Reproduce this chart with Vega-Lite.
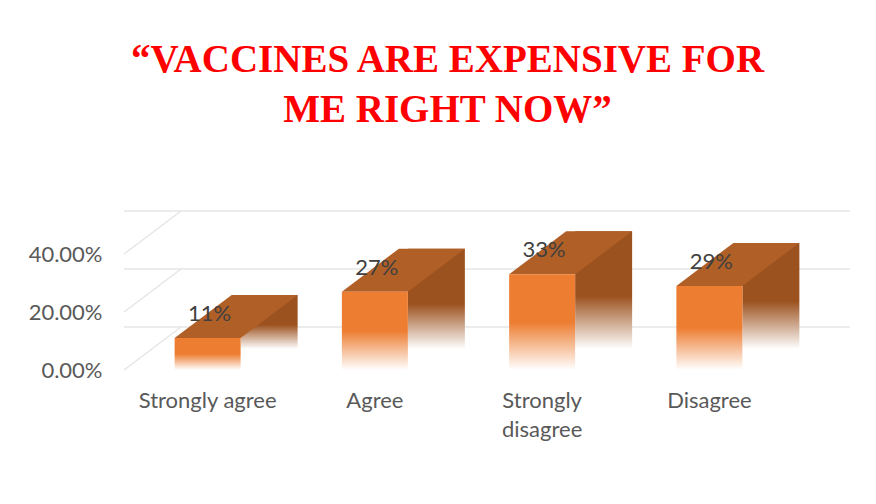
{
  "$schema": "https://vega.github.io/schema/vega-lite/v6.json",
  "width": 669,
  "height": 116,
  "autosize": {"type": "none"},
  "padding": {"left": 124, "top": 254, "right": 83, "bottom": 134},
  "background": "white",
  "config": {
    "view": {"stroke": null},
    "font": "Lato"
  },
  "title": {
    "text": ["“VACCINES ARE EXPENSIVE FOR", "ME RIGHT NOW”"],
    "font": "Liberation Serif",
    "fontWeight": "bold",
    "fontSize": 39,
    "color": "#FF0000",
    "lineHeight": 50,
    "anchor": "middle",
    "dx": -11,
    "offset": 80
  },
  "datasets": {
    "bars": [
      {"response": "Strongly agree", "share": 0.11, "label": "11%"},
      {"response": "Agree", "share": 0.27, "label": "27%"},
      {"response": "Strongly disagree", "share": 0.33, "label": "33%"},
      {"response": "Disagree", "share": 0.29, "label": "29%"}
    ],
    "grid": [{"t": 0}, {"t": 0.2}, {"t": 0.4}]
  },
  "layer": [
    {
      "data": {"name": "grid"},
      "mark": {"type": "rule", "color": "#e6e6e6", "strokeWidth": 1.5, "xOffset": 57, "yOffset": -43},
      "encoding": {
        "y": {
          "field": "t",
          "type": "quantitative",
          "scale": {"domain": [0, 0.4], "nice": false},
          "axis": {
            "title": null,
            "domain": false,
            "ticks": false,
            "grid": false,
            "values": [0, 0.2, 0.4],
            "format": ".2%",
            "labelFont": "Lato",
            "labelFontSize": 22,
            "labelColor": "#595959",
            "labelPadding": 22
          }
        }
      }
    },
    {
      "data": {"name": "grid"},
      "mark": {"type": "rule", "color": "#e6e6e6", "strokeWidth": 1.5, "y2Offset": -43},
      "encoding": {
        "x": {"value": 0},
        "x2": {"value": 57},
        "y": {"field": "t", "type": "quantitative"},
        "y2": {"field": "t"}
      }
    },
    {
      "data": {"name": "bars"},
      "layer": [
        {
          "mark": {
            "type": "bar",
            "width": 57,
            "xOffset": 61.5,
            "yOffset": -43,
            "y2Offset": -21,
            "fill": {
              "gradient": "linear", "x1": 0, "y1": 0, "x2": 0, "y2": 1,
              "stops": [
                {"offset": 0, "color": "#9c521f"},
                {"offset": 0.55, "color": "#9c521f"},
                {"offset": 1, "color": "#ffffff"}
              ]
            }
          },
          "encoding": {
            "x": {"field": "response", "type": "nominal", "sort": null},
            "y": {"field": "share", "type": "quantitative"},
            "y2": {"datum": 0}
          }
        },
        {
          "mark": {
            "type": "point",
            "shape": "M-33,0L33,0L90,-43L24,-43Z",
            "size": 4,
            "filled": true,
            "fill": "#b05f27",
            "opacity": 1,
            "strokeWidth": 0
          },
          "encoding": {
            "x": {"field": "response", "type": "nominal", "sort": null},
            "y": {"field": "share", "type": "quantitative"}
          }
        },
        {
          "mark": {
            "type": "bar",
            "width": 66,
            "fill": {
              "gradient": "linear", "x1": 0, "y1": 0, "x2": 0, "y2": 1,
              "stops": [
                {"offset": 0, "color": "#ed7d31"},
                {"offset": 0.5, "color": "#ed7d31"},
                {"offset": 1, "color": "#ffffff"}
              ]
            }
          },
          "encoding": {
            "x": {
              "field": "response",
              "type": "nominal",
              "sort": null,
              "scale": {"paddingInner": 0.605, "paddingOuter": 0.3025},
              "axis": {
                "title": null,
                "domain": false,
                "ticks": false,
                "labelAngle": 0,
                "labelAlign": "center",
                "labelFont": "Lato",
                "labelFontSize": 22,
                "labelColor": "#595959",
                "labelPadding": 30,
                "labelLineHeight": 29,
                "labelExpr": "datum.value == 'Strongly disagree' ? ['Strongly', 'disagree'] : datum.value"
              }
            },
            "y": {"field": "share", "type": "quantitative"},
            "y2": {"datum": 0}
          }
        },
        {
          "mark": {"type": "text", "font": "Lato", "fontSize": 22, "color": "#404040", "dx": 2, "dy": -24},
          "encoding": {
            "x": {"field": "response", "type": "nominal", "sort": null},
            "y": {"field": "share", "type": "quantitative"},
            "text": {"field": "label"}
          }
        }
      ]
    }
  ]
}
